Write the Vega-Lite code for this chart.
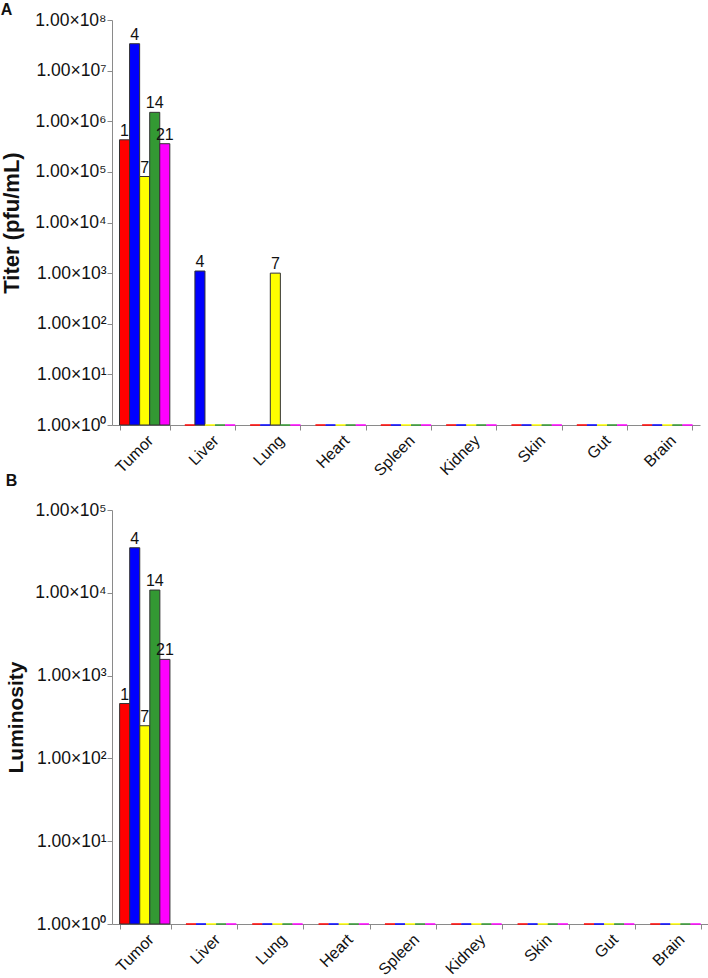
{
  "$schema": "https://vega.github.io/schema/vega-lite/v6.json",
  "padding": {"left": 0, "top": 1, "right": 0, "bottom": 0},
  "datasets": {
    "titer": [
      {"organ": "Tumor", "day": 1, "value": 430000},
      {"organ": "Tumor", "day": 4, "value": 34000000},
      {"organ": "Tumor", "day": 7, "value": 81000},
      {"organ": "Tumor", "day": 14, "value": 1500000},
      {"organ": "Tumor", "day": 21, "value": 360000},
      {"organ": "Liver", "day": 1, "value": 1},
      {"organ": "Liver", "day": 4, "value": 1100},
      {"organ": "Liver", "day": 7, "value": 1},
      {"organ": "Liver", "day": 14, "value": 1},
      {"organ": "Liver", "day": 21, "value": 1},
      {"organ": "Lung", "day": 1, "value": 1},
      {"organ": "Lung", "day": 4, "value": 1},
      {"organ": "Lung", "day": 7, "value": 1000},
      {"organ": "Lung", "day": 14, "value": 1},
      {"organ": "Lung", "day": 21, "value": 1},
      {"organ": "Heart", "day": 1, "value": 1},
      {"organ": "Heart", "day": 4, "value": 1},
      {"organ": "Heart", "day": 7, "value": 1},
      {"organ": "Heart", "day": 14, "value": 1},
      {"organ": "Heart", "day": 21, "value": 1},
      {"organ": "Spleen", "day": 1, "value": 1},
      {"organ": "Spleen", "day": 4, "value": 1},
      {"organ": "Spleen", "day": 7, "value": 1},
      {"organ": "Spleen", "day": 14, "value": 1},
      {"organ": "Spleen", "day": 21, "value": 1},
      {"organ": "Kidney", "day": 1, "value": 1},
      {"organ": "Kidney", "day": 4, "value": 1},
      {"organ": "Kidney", "day": 7, "value": 1},
      {"organ": "Kidney", "day": 14, "value": 1},
      {"organ": "Kidney", "day": 21, "value": 1},
      {"organ": "Skin", "day": 1, "value": 1},
      {"organ": "Skin", "day": 4, "value": 1},
      {"organ": "Skin", "day": 7, "value": 1},
      {"organ": "Skin", "day": 14, "value": 1},
      {"organ": "Skin", "day": 21, "value": 1},
      {"organ": "Gut", "day": 1, "value": 1},
      {"organ": "Gut", "day": 4, "value": 1},
      {"organ": "Gut", "day": 7, "value": 1},
      {"organ": "Gut", "day": 14, "value": 1},
      {"organ": "Gut", "day": 21, "value": 1},
      {"organ": "Brain", "day": 1, "value": 1},
      {"organ": "Brain", "day": 4, "value": 1},
      {"organ": "Brain", "day": 7, "value": 1},
      {"organ": "Brain", "day": 14, "value": 1},
      {"organ": "Brain", "day": 21, "value": 1}
    ],
    "lum": [
      {"organ": "Tumor", "day": 1, "value": 460},
      {"organ": "Tumor", "day": 4, "value": 35000},
      {"organ": "Tumor", "day": 7, "value": 248},
      {"organ": "Tumor", "day": 14, "value": 10800},
      {"organ": "Tumor", "day": 21, "value": 1570},
      {"organ": "Liver", "day": 1, "value": 1},
      {"organ": "Liver", "day": 4, "value": 1},
      {"organ": "Liver", "day": 7, "value": 1},
      {"organ": "Liver", "day": 14, "value": 1},
      {"organ": "Liver", "day": 21, "value": 1},
      {"organ": "Lung", "day": 1, "value": 1},
      {"organ": "Lung", "day": 4, "value": 1},
      {"organ": "Lung", "day": 7, "value": 1},
      {"organ": "Lung", "day": 14, "value": 1},
      {"organ": "Lung", "day": 21, "value": 1},
      {"organ": "Heart", "day": 1, "value": 1},
      {"organ": "Heart", "day": 4, "value": 1},
      {"organ": "Heart", "day": 7, "value": 1},
      {"organ": "Heart", "day": 14, "value": 1},
      {"organ": "Heart", "day": 21, "value": 1},
      {"organ": "Spleen", "day": 1, "value": 1},
      {"organ": "Spleen", "day": 4, "value": 1},
      {"organ": "Spleen", "day": 7, "value": 1},
      {"organ": "Spleen", "day": 14, "value": 1},
      {"organ": "Spleen", "day": 21, "value": 1},
      {"organ": "Kidney", "day": 1, "value": 1},
      {"organ": "Kidney", "day": 4, "value": 1},
      {"organ": "Kidney", "day": 7, "value": 1},
      {"organ": "Kidney", "day": 14, "value": 1},
      {"organ": "Kidney", "day": 21, "value": 1},
      {"organ": "Skin", "day": 1, "value": 1},
      {"organ": "Skin", "day": 4, "value": 1},
      {"organ": "Skin", "day": 7, "value": 1},
      {"organ": "Skin", "day": 14, "value": 1},
      {"organ": "Skin", "day": 21, "value": 1},
      {"organ": "Gut", "day": 1, "value": 1},
      {"organ": "Gut", "day": 4, "value": 1},
      {"organ": "Gut", "day": 7, "value": 1},
      {"organ": "Gut", "day": 14, "value": 1},
      {"organ": "Gut", "day": 21, "value": 1},
      {"organ": "Brain", "day": 1, "value": 1},
      {"organ": "Brain", "day": 4, "value": 1},
      {"organ": "Brain", "day": 7, "value": 1},
      {"organ": "Brain", "day": 14, "value": 1},
      {"organ": "Brain", "day": 21, "value": 1}
    ]
  },
  "columns": 1,
  "align": "none",
  "spacing": -6,
  "concat": [
    {
      "title": {"text": "A", "offset": -6.5},
      "width": 588,
      "height": 405,
      "data": {"name": "titer"},
      "encoding": {
        "x": {"field": "organ", "type": "nominal", "sort": ["Tumor", "Liver", "Lung", "Heart", "Spleen", "Kidney", "Skin", "Gut", "Brain"], "scale": {"paddingInner": 0.23, "paddingOuter": 0.115}, "axis": {"title": null, "labelAngle": -45, "tickBand": "extent", "labelPadding": 2}},
        "xOffset": {"field": "day", "type": "ordinal", "sort": [1, 4, 7, 14, 21]},
        "y": {"field": "value", "type": "quantitative", "scale": {"type": "log", "domain": [1, 100000000]}, "axis": {"title": "Titer (pfu/mL)", "titleFontSize": 22, "values": [1, 10, 100, 1000, 10000, 100000, 1000000, 10000000, 100000000], "labelExpr": "'1.00×10' + ['⁰','¹','²','³','⁴','⁵','⁶','⁷','⁸'][round(log(datum.value)/LN10)]", "titleFontWeight": "bold", "titlePadding": 11}}
      },
      "layer": [
        {
          "mark": {"type": "bar", "strokeWidth": 1},
          "encoding": {
            "y2": {"datum": 1},
            "fill": {"field": "day", "type": "ordinal", "scale": {"domain": [1, 4, 7, 14, 21], "range": ["#ff0000", "#0000ff", "#ffff00", "#339933", "#ff00ff"]}, "legend": null},
            "stroke": {"condition": {"test": "datum.value > 1", "value": "#333333"}, "field": "day", "type": "ordinal", "scale": {"domain": [1, 4, 7, 14, 21], "range": ["#ff0000", "#0000ff", "#ffff00", "#339933", "#ff00ff"]}, "legend": null}
          }
        },
        {
          "transform": [{"filter": "datum.value > 1"}],
          "mark": {"type": "text", "baseline": "alphabetic", "dy": -4, "fontSize": 16, "color": "#111111"},
          "encoding": {"text": {"field": "day", "type": "nominal"}}
        }
      ]
    },
    {
      "title": {"text": "B", "offset": 12},
      "width": 597,
      "height": 414,
      "data": {"name": "lum"},
      "encoding": {
        "x": {"field": "organ", "type": "nominal", "sort": ["Tumor", "Liver", "Lung", "Heart", "Spleen", "Kidney", "Skin", "Gut", "Brain"], "scale": {"paddingInner": 0.23, "paddingOuter": 0.115}, "axis": {"title": null, "labelAngle": -45, "tickBand": "extent", "labelPadding": 2}},
        "xOffset": {"field": "day", "type": "ordinal", "sort": [1, 4, 7, 14, 21]},
        "y": {"field": "value", "type": "quantitative", "scale": {"type": "log", "domain": [1, 100000]}, "axis": {"title": "Luminosity", "titleFontSize": 21, "values": [1, 10, 100, 1000, 10000, 100000], "labelExpr": "'1.00×10' + ['⁰','¹','²','³','⁴','⁵','⁶','⁷','⁸'][round(log(datum.value)/LN10)]", "titleFontWeight": "bold", "titlePadding": 8}}
      },
      "layer": [
        {
          "mark": {"type": "bar", "strokeWidth": 1},
          "encoding": {
            "y2": {"datum": 1},
            "fill": {"field": "day", "type": "ordinal", "scale": {"domain": [1, 4, 7, 14, 21], "range": ["#ff0000", "#0000ff", "#ffff00", "#339933", "#ff00ff"]}, "legend": null},
            "stroke": {"condition": {"test": "datum.value > 1", "value": "#333333"}, "field": "day", "type": "ordinal", "scale": {"domain": [1, 4, 7, 14, 21], "range": ["#ff0000", "#0000ff", "#ffff00", "#339933", "#ff00ff"]}, "legend": null}
          }
        },
        {
          "transform": [{"filter": "datum.value > 1"}],
          "mark": {"type": "text", "baseline": "alphabetic", "dy": -4, "fontSize": 16, "color": "#111111"},
          "encoding": {"text": {"field": "day", "type": "nominal"}}
        }
      ]
    }
  ],
  "config": {
    "font": "Liberation Sans",
    "view": {"stroke": null},
    "axis": {"domainColor": "#8a8a8a", "tickColor": "#8a8a8a", "labelColor": "#111111", "labelFont": "Liberation Sans", "labelFontSize": 16, "titleFont": "Liberation Sans", "titleColor": "#111111", "grid": false, "tickSize": 5},
    "axisY": {"labelFontSize": 17.5, "labelPadding": 1},
    "title": {"fontSize": 16, "fontWeight": "bold", "anchor": "start", "frame": "bounds", "color": "#111111", "font": "Liberation Sans"}
  }
}
